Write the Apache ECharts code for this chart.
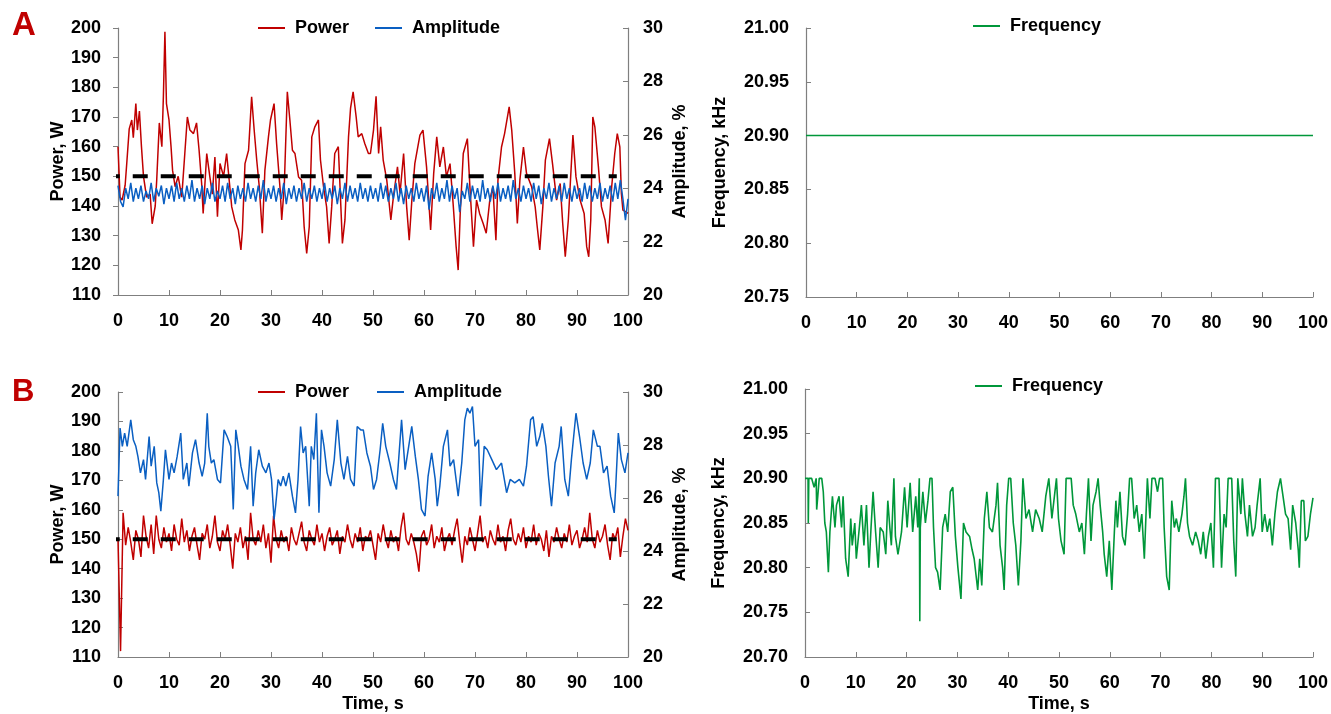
<!DOCTYPE html>
<html>
<head>
<meta charset="utf-8">
<script src="https://cdn.jsdelivr.net/npm/echarts@6.0.0/dist/echarts.min.js"></script>
<style>
  html, body { margin: 0; background: #ffffff; }
  #chart { width: 1331px; height: 714px; }
</style>
</head>
<body>
<div id="chart"></div>
<script>
// ---- data ----
// panel A, power (W)
const powerATime = [
  0, 0.4, 0.8, 1.4, 1.7, 2.2, 2.7, 3, 3.5, 3.8,
  4.2, 4.6, 5, 5.6, 6.3, 6.7, 7.3, 7.6, 8.1, 8.6,
  8.9, 9.2, 9.5, 10, 10.4, 10.7, 11.2, 11.8, 12.5, 13.1,
  13.6, 14.1, 14.8, 15.4, 15.9, 16.4, 16.7, 17.4, 18, 18.5,
  19, 19.5, 20, 20.7, 21.3, 22.3, 22.9, 23.6, 24.1, 24.4,
  24.9, 25.6, 26.2, 26.7, 27.2, 27.7, 28.3, 28.8, 29.5, 29.9,
  30.6, 31.1, 31.8, 32.1, 32.6, 33.2, 33.7, 34.2, 34.7, 35.4,
  36, 36.5, 37, 37.5, 38, 38.6, 39.3, 39.7, 40.3, 40.9,
  41.4, 41.9, 42.5, 43.2, 43.7, 44, 44.5, 45.2, 45.6, 46.1,
  46.7, 47.1, 47.8, 48.4, 49.1, 49.5, 50.1, 50.6, 51.1, 51.5,
  52, 52.7, 53.5, 54, 54.8, 55.3, 56, 56.6, 57.1, 57.6,
  58.2, 59.2, 59.8, 60.5, 61.3, 61.9, 62.5, 63.1, 63.8, 64.4,
  65.1, 65.7, 66.3, 66.7, 67.1, 67.7, 68.5, 69, 69.7, 70.3,
  70.9, 71.6, 72.2, 72.9, 73.5, 74.1, 74.5, 75.2, 75.8, 76.7,
  77.2, 77.8, 78.3, 78.8, 79.5, 80.1, 81.1, 81.8, 82.2, 82.7,
  83.3, 83.8, 84.6, 85.2, 86, 86.7, 87.2, 87.7, 88.3, 89.2,
  89.8, 90.6, 91.4, 91.9, 92.3, 92.7, 93.1, 93.5, 94.2, 94.8,
  95.5, 96.1, 96.8, 97.4, 97.9, 98.4, 98.7, 99, 99.6, 100
];
const powerA = [
  160, 143, 142, 147, 154, 166, 169, 163, 174.5, 165.6,
  172, 160, 150, 143, 144, 134, 140, 149, 168, 160,
  177, 198.7, 174.5, 169, 160, 152, 146.5, 150, 143, 157.7,
  170, 165.6, 164.4, 168, 158.8, 147.6, 137.5, 157.7, 150, 144,
  156.5, 136.4, 154.3, 150, 157.7, 139.7, 135.3, 131.9, 125.2, 131.9,
  154.3, 158.8, 176.8, 165.6, 155.5, 146.5, 130.8, 152, 163.3, 169,
  174.5, 161, 145.4, 135.3, 146.5, 178.5, 169, 158.8, 157.7, 149.8,
  148.7, 133, 124, 133, 163.3, 166.7, 169, 155.5, 146.5, 139.7,
  127.4, 139.7, 157.7, 160, 139.7, 127.4, 135.3, 163.3, 173, 178.5,
  170, 163.3, 164.4, 161, 157.7, 157.7, 165.6, 177, 157.7, 166.7,
  155.5, 148.7, 135.3, 143.1, 153.2, 144.2, 157.7, 139.7, 128.5, 141.5,
  154.3, 163.9, 165.6, 153.2, 131.9, 151, 163.3, 153.2, 159.9, 149.8,
  154.3, 141, 126.3, 118.4, 137.5, 157.7, 162.7, 146.5, 126.3, 142,
  137.5, 134.1, 130.8, 142, 146.5, 128.5, 148.7, 159.9, 164.4, 173.4,
  165.6, 151, 134.1, 148.7, 159.9, 151, 146.5, 139.7, 133, 125.2,
  139.7, 155.5, 162.7, 154.3, 142, 147.6, 134.1, 122.9, 135.3, 163.9,
  149.8, 142, 137.5, 126.3, 122.9, 135.3, 170, 166.7, 153.2, 139.7,
  135.3, 127.4, 146.5, 157.7, 164.4, 159.9, 144.2, 138.6, 138, 137.5
];

// half-second grid used by panel A amplitude and panel B power
const gridTime = [
  0, 0.5, 1, 1.5, 2, 2.5, 3, 3.5, 4, 4.5, 5, 5.5, 6, 6.5, 7, 7.5, 8, 8.5, 9, 9.5, 10,
  10.5, 11, 11.5, 12, 12.5, 13, 13.5, 14, 14.5, 15, 15.5, 16, 16.5, 17, 17.5, 18, 18.5, 19, 19.5, 20,
  20.5, 21, 21.5, 22, 22.5, 23, 23.5, 24, 24.5, 25, 25.5, 26, 26.5, 27, 27.5, 28, 28.5, 29, 29.5, 30,
  30.5, 31, 31.5, 32, 32.5, 33, 33.5, 34, 34.5, 35, 35.5, 36, 36.5, 37, 37.5, 38, 38.5, 39, 39.5, 40,
  40.5, 41, 41.5, 42, 42.5, 43, 43.5, 44, 44.5, 45, 45.5, 46, 46.5, 47, 47.5, 48, 48.5, 49, 49.5, 50,
  50.5, 51, 51.5, 52, 52.5, 53, 53.5, 54, 54.5, 55, 55.5, 56, 56.5, 57, 57.5, 58, 58.5, 59, 59.5, 60,
  60.5, 61, 61.5, 62, 62.5, 63, 63.5, 64, 64.5, 65, 65.5, 66, 66.5, 67, 67.5, 68, 68.5, 69, 69.5, 70,
  70.5, 71, 71.5, 72, 72.5, 73, 73.5, 74, 74.5, 75, 75.5, 76, 76.5, 77, 77.5, 78, 78.5, 79, 79.5, 80,
  80.5, 81, 81.5, 82, 82.5, 83, 83.5, 84, 84.5, 85, 85.5, 86, 86.5, 87, 87.5, 88, 88.5, 89, 89.5, 90,
  90.5, 91, 91.5, 92, 92.5, 93, 93.5, 94, 94.5, 95, 95.5, 96, 96.5, 97, 97.5, 98, 98.5, 99, 99.5, 100
];

// panel A, amplitude (%)
const amplitudeA = [
  24.1, 23.5, 23.3, 24.0, 23.6, 24.2, 23.5, 24.0, 23.6, 24.1, 23.5, 23.9, 23.6, 24.2, 23.5, 24.0, 23.7, 24.1, 23.4, 24.0, 23.6,
  24.1, 23.5, 24.2, 23.6, 24.0, 23.5, 24.1, 23.6, 24.3, 23.5, 24.0, 23.6, 24.1, 23.4, 24.0, 23.6, 24.2, 23.5, 23.9, 23.6,
  24.1, 23.5, 24.2, 23.6, 24.0, 23.4, 24.1, 23.6, 24.0, 23.5, 24.2, 23.6, 24.0, 23.5, 24.1, 23.6, 24.3, 23.5, 24.0, 23.6,
  24.1, 23.5, 24.0, 23.6, 24.2, 23.4, 24.0, 23.6, 24.1, 23.5, 24.0, 23.6, 24.2, 23.5, 24.0, 23.6, 24.1, 23.5, 24.0, 23.6,
  24.2, 23.5, 24.0, 23.6, 24.1, 23.4, 24.0, 23.6, 24.2, 23.5, 24.1, 23.6, 24.0, 23.5, 24.2, 23.6, 24.0, 23.5, 24.1, 23.6,
  24.0, 23.5, 24.2, 23.6, 24.1, 23.5, 24.0, 23.6, 24.2, 23.5, 24.0, 23.4, 24.1, 23.6, 24.0, 23.5, 24.2, 23.6, 24.0, 23.5,
  24.1, 23.2, 24.0, 23.6, 24.2, 23.5, 24.0, 23.6, 24.3, 23.5, 24.1, 23.6, 24.0, 23.1, 23.9, 23.6, 24.2, 23.5, 24.1, 23.6,
  24.0, 23.5, 24.3, 23.6, 24.0, 23.5, 24.1, 23.6, 24.2, 23.5, 24.0, 23.6, 24.1, 23.5, 24.3, 23.6, 24.0, 23.5, 24.1, 23.6,
  24.0, 23.5, 24.2, 23.6, 24.1, 23.4, 24.0, 23.6, 24.2, 23.5, 24.0, 23.6, 24.1, 23.5, 24.2, 23.6, 24.0, 23.5, 24.1, 23.6,
  24.0, 23.5, 24.2, 23.6, 24.1, 23.5, 24.0, 23.6, 24.2, 23.5, 24.0, 23.6, 24.1, 23.5, 24.2, 23.6, 24.3, 23.6, 22.8, 23.6
];

// panel A, frequency (kHz)
const freqATime = [0, 100];
const freqA = [20.90, 20.90];

// panel B, power (W)
const powerB = [
  150, 112, 159, 148, 154, 149, 143, 153, 150, 144, 158, 151, 147, 155, 145, 158, 150, 147, 154, 149, 152,
  146, 155, 150, 148, 157, 149, 153, 146, 151, 154, 148, 143, 152, 150, 155, 147, 151, 158, 149, 146,
  153, 150, 155, 148, 140, 152, 149, 154, 147, 151, 143, 159, 150, 148, 153, 149, 155, 147, 152, 142,
  158, 150, 147, 153, 149, 151, 146, 154, 150, 148, 152, 156, 149, 146, 153, 150, 148, 155, 149, 152,
  146, 151, 154, 148, 150, 153, 145, 151, 149, 155, 150, 147, 152, 149, 154, 146, 151, 150, 153, 148,
  143, 152, 149, 155, 150, 147, 153, 149, 151, 146, 154, 159, 150, 148, 152, 149, 145, 139, 151, 153,
  148, 150, 155, 147, 151, 149, 154, 146, 150, 152, 148, 153, 157, 149, 142, 151, 148, 154, 150, 146,
  152, 158, 149, 151, 147, 153, 150, 148, 155, 149, 151, 146, 153, 157, 150, 148, 152, 149, 154, 147,
  151, 149, 155, 148, 152, 150, 146, 153, 144, 151, 149, 154, 150, 147, 152, 149, 155, 148, 151, 153,
  147, 150, 154, 149, 159, 150, 147, 153, 149, 151, 155, 148, 143, 152, 150, 154, 144, 151, 157, 153
];

// panel B, amplitude (%)
const amplitudeBTime = [
  0, 0.4, 0.85, 1.3, 1.8, 2.5, 3, 3.5, 3.9, 4.4,
  5, 5.4, 6.1, 6.5, 7.1, 7.6, 8, 8.4, 8.9, 9.3,
  10, 10.5, 11, 11.6, 12.3, 12.8, 13.5, 13.9, 14.6, 15.2,
  15.9, 16.5, 17, 17.5, 17.8, 18.3, 18.8, 19.5, 20.1, 20.8,
  21.4, 22.1, 22.6, 23.1, 23.5, 24.1, 24.7, 25.4, 26, 26.5,
  27, 27.6, 28.3, 29, 29.6, 30.1, 30.6, 30.9, 31.4, 31.9,
  32.4, 32.9, 33.5, 34.2, 34.8, 35.3, 35.8, 36.3, 36.8, 37.5,
  37.9, 38.4, 38.9, 39.4, 39.9, 40.4, 41, 41.7, 42.4, 43,
  43.7, 44.3, 45, 45.6, 46.3, 46.9, 47.6, 48.1, 48.8, 49.5,
  50.1, 50.7, 51.4, 51.9, 52.5, 53.3, 54, 54.6, 55.6, 56.3,
  57, 57.6, 58.3, 58.9, 59.5, 60.2, 60.8, 61.5, 62.2, 62.6,
  63.1, 63.8, 64.6, 65.1, 65.8, 66.7, 67.4, 68, 68.5, 69,
  69.5, 70, 70.7, 71.1, 71.8, 72.4, 73.3, 74.2, 75.2, 76.2,
  76.9, 77.8, 78.7, 79.5, 80.1, 80.9, 81.4, 82.1, 82.7, 83.2,
  83.9, 84.4, 85, 85.7, 86.5, 86.9, 87.6, 88.3, 88.9, 89.8,
  90.5, 91.2, 91.9, 92.6, 93.2, 94, 94.5, 95.2, 95.9, 96.6,
  97.3, 97.6, 98.1, 98.7, 99.4, 100
];
const amplitudeB = [
  26.07, 28.64, 27.95, 28.45, 27.95, 28.95, 28.2, 27.95, 27.57, 26.95,
  27.45, 26.7, 28.32, 27.2, 27.95, 26.57, 26.2, 25.5, 26.7, 27.82,
  26.7, 27.32, 26.95, 27.57, 28.45, 26.7, 27.32, 26.45, 27.7, 28.2,
  27.32, 26.82, 27.32, 29.2, 27.95, 27.32, 27.45, 26.7, 26.57, 28.57,
  28.32, 27.95, 25.57, 28.57, 28.07, 27.2, 26.7, 26.32, 27.95, 25.69,
  26.95, 27.82, 27.2, 26.95, 27.32, 26.7, 25.19, 25.69, 26.7, 26.45,
  26.82, 26.45, 26.95, 26.07, 25.44, 26.7, 28.7, 27.7, 27.95, 25.69,
  27.95, 27.45, 29.2, 25.44, 28.57, 27.95, 26.95, 26.45, 27.45, 28.95,
  27.32, 26.7, 27.57, 26.7, 26.45, 28.7, 28.57, 28.57, 27.7, 27.2,
  26.32, 26.7, 27.82, 28.82, 27.95, 27.32, 26.7, 26.32, 28.95, 27.07,
  27.95, 28.7, 27.57, 26.7, 25.57, 25.32, 26.82, 27.7, 26.7, 25.69,
  26.45, 27.95, 28.57, 27.2, 27.45, 26.07, 27.32, 28.95, 29.39, 29.2,
  29.45, 27.95, 28.2, 25.69, 27.95, 27.82, 27.45, 27.07, 27.32, 26.2,
  26.7, 26.57, 26.7, 26.45, 27.2, 28.95, 29.07, 27.95, 28.32, 28.82,
  27.95, 26.82, 25.69, 27.32, 27.95, 28.7, 26.7, 26.07, 27.45, 29.2,
  28.32, 27.32, 26.7, 27.32, 28.57, 27.95, 27.95, 26.95, 27.2, 26.07,
  25.44, 26.45, 28.45, 27.45, 26.95, 27.7
];

// panel B, frequency (kHz)
const freqBTime = [
  0, 0.6, 0.65, 0.75, 1.3, 1.8, 2.2, 2.3, 2.8, 3.3,
  3.6, 3.9, 4.2, 4.6, 4.9, 5.4, 5.9, 6.2, 6.7, 7.2,
  7.5, 8, 8.5, 9, 9.3, 9.8, 10.1, 10.7, 11.1, 11.6,
  12.1, 12.6, 13, 13.4, 13.9, 14.4, 14.8, 15.4, 15.9, 16.3,
  16.7, 17, 17.5, 17.8, 18.3, 19, 19.6, 20.1, 20.7, 21.2,
  21.8, 22.2, 22.5, 22.6, 22.7, 23.2, 23.7, 24.2, 24.6, 25,
  25.3, 25.7, 26.1, 26.6, 27.1, 27.6, 28.1, 28.6, 29.1, 29.6,
  30.1, 30.7, 31.2, 31.7, 32.4, 32.9, 33.3, 34, 34.4, 34.8,
  35.3, 35.8, 36.3, 36.9, 37.6, 37.9, 38.4, 38.9, 39.2, 39.7,
  40.1, 40.5, 41, 41.5, 42, 42.5, 42.9, 43.5, 44.1, 44.8,
  45.4, 46.1, 46.7, 47.4, 48, 48.6, 49.1, 49.5, 49.9, 50.4,
  51, 51.4, 52.4, 52.8, 53.3, 54, 54.5, 55, 55.4, 55.8,
  56.3, 56.7, 57.3, 57.7, 58.1, 58.6, 58.9, 59.4, 59.9, 60.4,
  60.9, 61.2, 61.5, 62, 62.5, 63, 63.5, 63.9, 64.3, 64.8,
  65.3, 65.8, 66.3, 66.8, 67.1, 67.4, 67.9, 68.3, 68.9, 69.4,
  69.8, 70.4, 70.7, 71.2, 71.7, 72.2, 72.7, 73.1, 73.6, 74.2,
  74.6, 74.9, 75.3, 75.7, 76.3, 76.9, 77.4, 77.9, 78.4, 78.9,
  79.4, 79.9, 80.4, 80.8, 81.5, 82, 82.5, 82.9, 83.3, 84,
  84.4, 84.8, 85.2, 85.8, 86.1, 86.6, 87.1, 87.5, 88.1, 88.6,
  89, 89.6, 90, 90.5, 91, 91.5, 92, 92.5, 93, 93.6,
  94.1, 94.6, 95.1, 95.6, 96, 96.6, 97.1, 97.3, 97.7, 98.2,
  98.5, 99, 99.5, 100
];
const freqB = [
  20.90, 20.90, 20.85, 20.90, 20.90, 20.89, 20.90, 20.865, 20.90, 20.90,
  20.885, 20.85, 20.84, 20.795, 20.84, 20.88, 20.845, 20.87, 20.88, 20.845,
  20.88, 20.81, 20.79, 20.855, 20.825, 20.85, 20.81, 20.845, 20.87, 20.825,
  20.87, 20.80, 20.845, 20.885, 20.84, 20.80, 20.845, 20.84, 20.815, 20.875,
  20.845, 20.825, 20.90, 20.835, 20.815, 20.84, 20.89, 20.845, 20.895, 20.84,
  20.88, 20.845, 20.90, 20.74, 20.845, 20.885, 20.85, 20.875, 20.90, 20.90,
  20.845, 20.80, 20.795, 20.775, 20.845, 20.86, 20.84, 20.885, 20.89, 20.835,
  20.80, 20.765, 20.85, 20.84, 20.835, 20.82, 20.81, 20.775, 20.81, 20.78,
  20.855, 20.885, 20.845, 20.84, 20.87, 20.895, 20.825, 20.80, 20.775, 20.87,
  20.90, 20.90, 20.85, 20.825, 20.78, 20.83, 20.90, 20.855, 20.865, 20.84,
  20.865, 20.855, 20.84, 20.88, 20.90, 20.855, 20.88, 20.90, 20.855, 20.83,
  20.815, 20.90, 20.90, 20.87, 20.86, 20.84, 20.85, 20.815, 20.86, 20.90,
  20.83, 20.87, 20.885, 20.90, 20.87, 20.84, 20.815, 20.79, 20.83, 20.775,
  20.84, 20.875, 20.845, 20.885, 20.835, 20.825, 20.86, 20.90, 20.90, 20.855,
  20.87, 20.84, 20.86, 20.81, 20.855, 20.90, 20.855, 20.90, 20.90, 20.885,
  20.90, 20.90, 20.845, 20.79, 20.775, 20.875, 20.845, 20.855, 20.84, 20.86,
  20.88, 20.90, 20.85, 20.835, 20.825, 20.84, 20.83, 20.815, 20.84, 20.81,
  20.835, 20.85, 20.80, 20.90, 20.90, 20.80, 20.86, 20.845, 20.90, 20.90,
  20.83, 20.79, 20.90, 20.86, 20.90, 20.86, 20.835, 20.87, 20.835, 20.845,
  20.87, 20.90, 20.84, 20.86, 20.84, 20.855, 20.825, 20.86, 20.885, 20.90,
  20.88, 20.86, 20.855, 20.82, 20.87, 20.85, 20.82, 20.80, 20.875, 20.875,
  20.83, 20.835, 20.86, 20.878
];

// 150 W set point (dashed)
const setpointTime = [-2.6, 97.8];
const setpoint = [150, 150];

// ---- chart ----
const FONT = 'Arial, "Liberation Sans", sans-serif';
const RED = '#c00000';
const BLUE = '#0a5fc2';
const GREEN = '#00973a';
const AXIS_GREY = '#7f7f7f';

function pairs(ts, vs) {
  return ts.map((t, i) => [t, vs[i]]);
}

const labelStyle = { color: '#000', fontSize: 18, fontWeight: 'bold', fontFamily: FONT };
const nameStyle = { color: '#000', fontSize: 18, fontWeight: 'bold', fontFamily: FONT };

function xAxis(gridIndex, withName) {
  return {
    type: 'value', gridIndex: gridIndex, min: 0, max: 100, interval: 10,
    name: withName ? 'Time, s' : '', nameLocation: 'middle', nameGap: 38, nameTextStyle: nameStyle,
    axisLine: { lineStyle: { color: AXIS_GREY, width: 1.2 } },
    axisTick: { inside: true, length: 5, lineStyle: { color: AXIS_GREY } },
    axisLabel: Object.assign({ margin: 17 }, labelStyle),
    splitLine: { show: false }
  };
}

function yAxis(o) {
  return {
    type: 'value', gridIndex: o.grid, position: o.pos, min: o.min, max: o.max, interval: o.interval,
    name: o.name, nameLocation: 'middle', nameRotate: 90, nameGap: o.gap, nameTextStyle: nameStyle,
    axisLine: { show: true, lineStyle: { color: AXIS_GREY, width: 1.2 } },
    axisTick: { show: true, inside: o.inside, length: 5, lineStyle: { color: AXIS_GREY } },
    axisLabel: Object.assign({ margin: o.margin, formatter: o.fmt }, labelStyle),
    splitLine: { show: false }
  };
}

function line(name, xi, yi, data, color, width) {
  return {
    name: name, type: 'line', xAxisIndex: xi, yAxisIndex: yi, data: data,
    showSymbol: false, symbol: 'none', color: color,
    lineStyle: { color: color, width: width }
  };
}

function dashed(xi, yi) {
  return {
    type: 'line', xAxisIndex: xi, yAxisIndex: yi, data: pairs(setpointTime, setpoint),
    showSymbol: false, symbol: 'none', clip: false, silent: true,
    lineStyle: { color: '#000', width: 4, type: [15, 13] }
  };
}

function legend(name, left, top) {
  return {
    data: [name], left: left, top: top, icon: 'rect', itemWidth: 27, itemHeight: 2,
    textStyle: { color: '#000', fontSize: 18, fontWeight: 'bold', fontFamily: FONT, padding: [0, 0, 0, 5] }
  };
}

const freqFmt = v => v.toFixed(2);

const chart = echarts.init(document.getElementById('chart'));
chart.setOption({
  animation: false,
  backgroundColor: '#ffffff',
  graphic: [
    { type: 'text', left: 12, top: 9, style: { text: 'A', fill: RED, font: 'bold 33px ' + FONT } },
    { type: 'text', left: 12, top: 377, style: { text: 'B', fill: RED, font: 'bold 31px ' + FONT } }
  ],
  legend: [
    legend('Power', 253, 14),
    legend('Amplitude', 370, 14),
    legend('Frequency', 968, 12),
    legend('Power', 253, 378),
    legend('Amplitude', 372, 378),
    legend('Frequency', 970, 372)
  ],
  grid: [
    { left: 118, top: 28, width: 510, height: 267 },
    { left: 806, top: 28, width: 508, height: 269 },
    { left: 118, top: 392, width: 510, height: 266 },
    { left: 805, top: 389, width: 509, height: 268 }
  ],
  xAxis: [xAxis(0, false), xAxis(1, false), xAxis(2, true), xAxis(3, true)],
  yAxis: [
    yAxis({ grid: 0, pos: 'left', min: 110, max: 200, interval: 10, name: 'Power, W', gap: 51, inside: false, margin: 17 }),
    yAxis({ grid: 0, pos: 'right', min: 20, max: 30, interval: 2, name: 'Amplitude, %', gap: 43, inside: true, margin: 15 }),
    yAxis({ grid: 1, pos: 'left', min: 20.75, max: 21, interval: 0.05, name: 'Frequency, kHz', gap: 77, inside: true, margin: 17, fmt: freqFmt }),
    yAxis({ grid: 2, pos: 'left', min: 110, max: 200, interval: 10, name: 'Power, W', gap: 51, inside: true, margin: 17 }),
    yAxis({ grid: 2, pos: 'right', min: 20, max: 30, interval: 2, name: 'Amplitude, %', gap: 43, inside: true, margin: 15 }),
    yAxis({ grid: 3, pos: 'left', min: 20.7, max: 21, interval: 0.05, name: 'Frequency, kHz', gap: 77, inside: true, margin: 17, fmt: freqFmt })
  ],
  series: [
    line('Power', 0, 0, pairs(powerATime, powerA), RED, 1.5),
    line('Amplitude', 0, 1, pairs(gridTime, amplitudeA), BLUE, 1.5),
    dashed(0, 0),
    line('Frequency', 1, 2, pairs(freqATime, freqA), GREEN, 1.5),
    line('Power', 2, 3, pairs(gridTime, powerB), RED, 1.5),
    line('Amplitude', 2, 4, pairs(amplitudeBTime, amplitudeB), BLUE, 1.5),
    dashed(2, 3),
    line('Frequency', 3, 5, pairs(freqBTime, freqB), GREEN, 1.6)
  ]
});
</script>
</body>
</html>
